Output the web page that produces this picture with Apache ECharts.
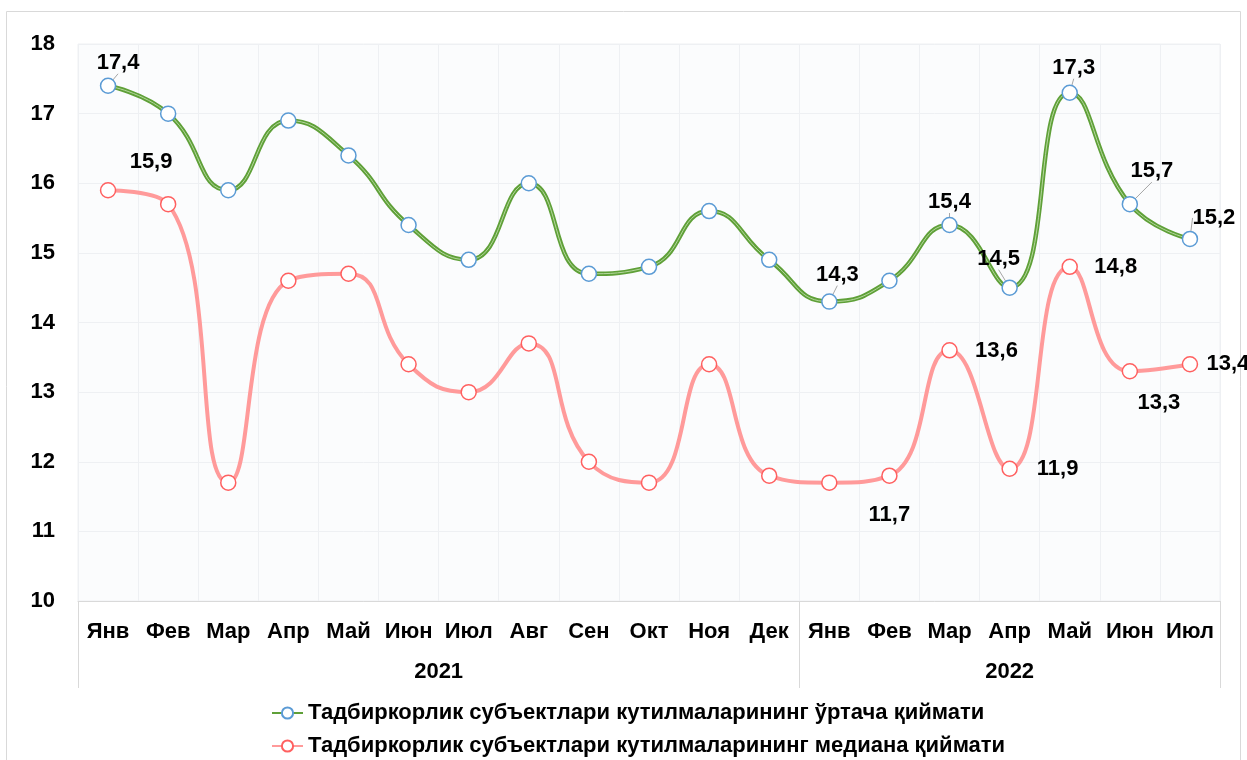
<!DOCTYPE html>
<html>
<head>
<meta charset="utf-8">
<script src="https://cdn.jsdelivr.net/npm/echarts@6/dist/echarts.min.js"></script>
<style>
html, body { margin: 0; padding: 0; background: #fff; }
#chart { width: 1247px; height: 760px; }
</style>
</head>
<body>
<div id="chart"></div>
<script>
const months = ['Янв', 'Фев', 'Мар', 'Апр', 'Май', 'Июн', 'Июл', 'Авг', 'Сен', 'Окт', 'Ноя', 'Дек',
    'Янв', 'Фев', 'Мар', 'Апр', 'Май', 'Июн', 'Июл']
const years = ['2021', '2022']
const yearStart = [0, 12]
const meanName = 'Тадбиркорлик субъектлари кутилмаларининг ўртача қиймати'
const medianName = 'Тадбиркорлик субъектлари кутилмаларининг медиана қиймати'
const meanValues = [17.4, 17.0, 15.9, 16.9, 16.4, 15.4, 14.9, 16.0, 14.7, 14.8, 15.6, 14.9,
    14.3, 14.6, 15.4, 14.5, 17.3, 15.7, 15.2]
const medianValues = [15.9, 15.7, 11.7, 14.6, 14.7, 13.4, 13.0, 13.7, 12.0, 11.7, 13.4, 11.8,
    11.7, 11.8, 13.6, 11.9, 14.8, 13.3, 13.4]

// which points get a value label, and where it sits (offset from the point)
const meanLabels = { 0: [10, -23], 12: [8, -27], 14: [0, -23], 15: [-11, -29], 16: [4, -25], 17: [22, -33], 18: [24, -21] }
const medianLabels = { 0: [43, -28], 12: [60, 32], 14: [47, 1], 15: [48, 0], 16: [46, 0], 17: [29, 32], 18: [38, 0] }

const font = 'Arial, "Liberation Sans", sans-serif'
const fmt = v => String(v.toFixed(1)).replace('.', ',')

function withLabels(values, labels) {
    return values.map((v, i) => ({ value: v, label: { show: labels[i] !== undefined } }))
}

const chart = echarts.init(document.getElementById('chart'))

const labelStyle = {
    position: 'inside',
    color: '#000',
    fontFamily: font,
    fontWeight: 'bold',
    fontSize: 22,
    formatter: p => fmt(p.value)
}
const axisText = {
    color: '#000',
    fontFamily: font,
    fontWeight: 'bold',
    fontSize: 22
}
const legendBase = {
    orient: 'vertical',
    left: 266,
    itemWidth: 31,
    itemHeight: 14,
    itemGap: 6,
    textStyle: axisText
}

chart.setOption({
    animation: false,
    textStyle: { fontFamily: font },
    graphic: [{
        type: 'rect',
        shape: { x: 6.5, y: 11.5, width: 1234, height: 770 },
        style: { fill: 'none', stroke: '#d9d9d9', lineWidth: 1 },
        silent: true
    }],
    grid: {
        left: 78,
        right: 27,
        top: 44,
        bottom: 159,
        show: true,
        backgroundColor: '#fbfcfd',
        borderColor: '#eef0f3',
        borderWidth: 1
    },
    legend: [
        Object.assign({ data: [meanName], top: 697 }, legendBase),
        Object.assign({ data: [medianName], top: 730 }, legendBase)
    ],
    xAxis: [{
        type: 'category',
        data: months,
        boundaryGap: true,
        axisLine: { lineStyle: { color: '#d9d9d9' } },
        axisTick: { show: false },
        splitLine: { show: true, lineStyle: { color: '#eef0f3' } },
        axisLabel: Object.assign({ interval: 0, margin: 20 }, axisText)
    }, {
        // year row under the months
        type: 'value',
        min: 0,
        max: months.length,
        position: 'bottom',
        axisLine: { show: false },
        splitLine: { show: false },
        axisTick: {
            show: true,
            customValues: yearStart.concat([months.length]),
            length: 87,
            lineStyle: { color: '#d9d9d9' }
        },
        axisLabel: Object.assign({
            customValues: yearStart.map((s, i) => (s + (yearStart[i + 1] || months.length)) / 2),
            margin: 60,
            formatter: v => years[v < yearStart[1] ? 0 : 1]
        }, axisText)
    }],
    yAxis: {
        type: 'value',
        min: 10,
        max: 18,
        interval: 1,
        axisLine: { show: false },
        axisTick: { show: false },
        splitLine: { lineStyle: { color: '#eef0f3' } },
        axisLabel: Object.assign({ margin: 23 }, axisText)
    },
    series: [{
        name: medianName,
        type: 'line',
        smooth: 0.5,
        data: withLabels(medianValues, medianLabels),
        symbol: 'circle',
        symbolSize: 15,
        lineStyle: { color: '#ff9a9a', width: 4 },
        itemStyle: { color: '#fff', borderColor: '#ff6060', borderWidth: 1.5 },
        label: labelStyle,
        labelLayout: p => {
            const o = medianLabels[p.dataIndex] || [0, 0]
            return { dx: o[0], dy: o[1] }
        },
        z: 2
    }, {
        name: meanName,
        type: 'line',
        smooth: 0.5,
        data: withLabels(meanValues, meanLabels),
        symbol: 'circle',
        symbolSize: 15,
        lineStyle: { color: '#5fa038', width: 4.5 },
        itemStyle: { color: '#fff', borderColor: '#5b9bd5', borderWidth: 1.5 },
        label: labelStyle,
        labelLine: { show: true, lineStyle: { color: '#a6a6a6', width: 1 } },
        labelLayout: p => {
            const o = meanLabels[p.dataIndex] || [0, 0]
            return { dx: o[0], dy: o[1] }
        },
        z: 3
    }, {
        // thin light stripe inside the green line
        type: 'line',
        smooth: 0.5,
        data: meanValues,
        symbol: 'none',
        silent: true,
        lineStyle: { color: '#b5d89e', width: 1 },
        z: 3
    }]
})
</script>
</body>
</html>
